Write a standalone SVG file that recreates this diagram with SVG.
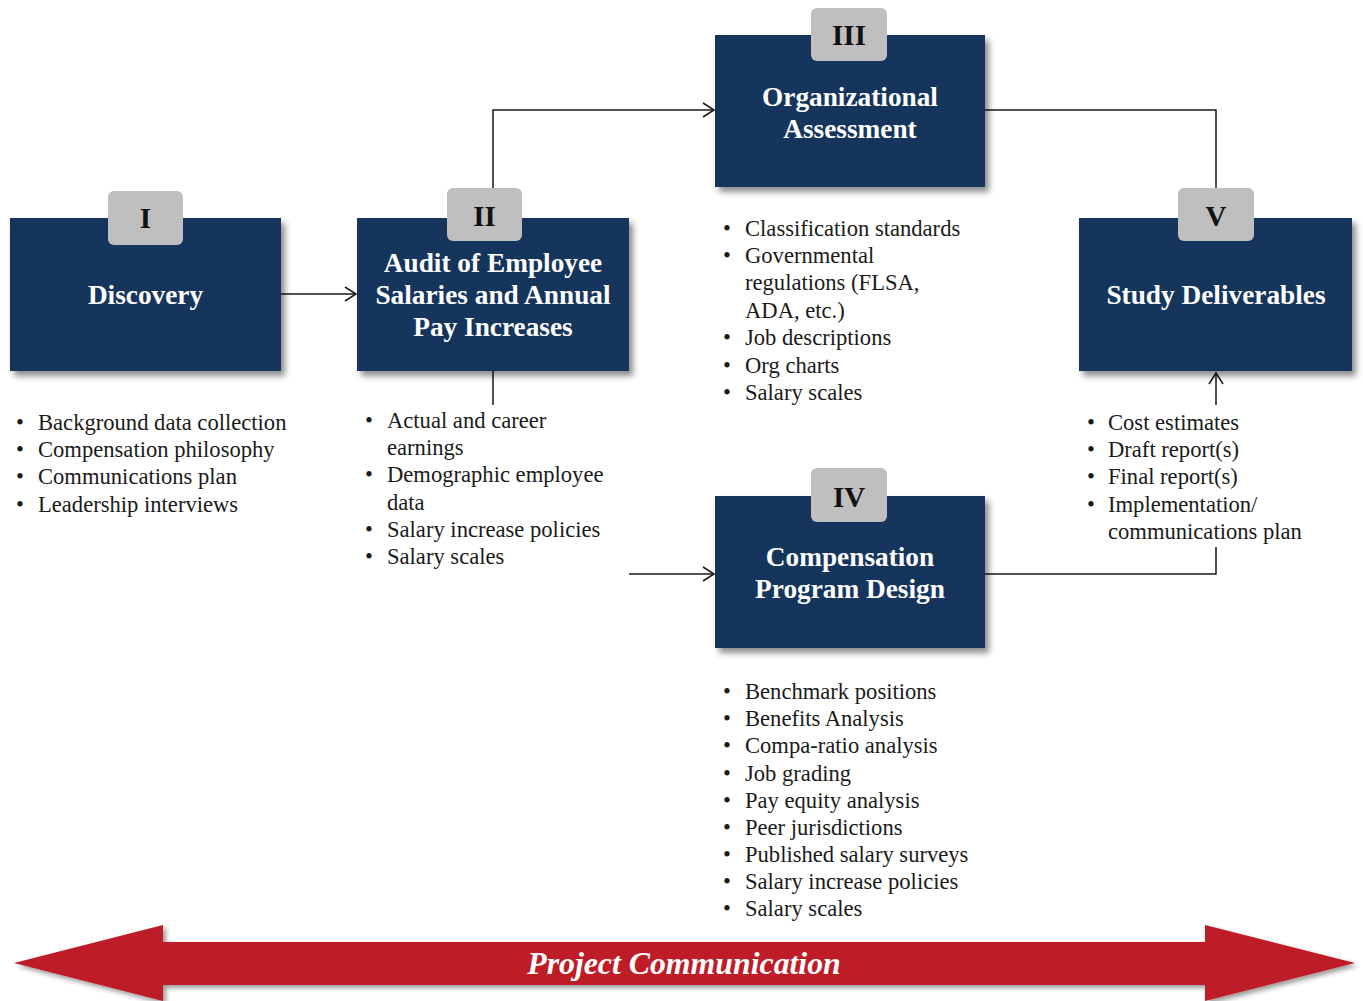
<svg xmlns="http://www.w3.org/2000/svg" width="1363" height="1001" viewBox="0 0 1363 1001">
  <defs>
    <style>
      .box { fill: #17365d; }
      .badge { fill: #bfbfbf; }
      .title { font-family: "Liberation Serif", "Times New Roman", serif; font-weight: bold; font-size: 27.3px; fill: #ffffff; text-anchor: middle; }
      .num { font-family: "Liberation Serif", "Times New Roman", serif; font-weight: bold; font-size: 29px; fill: #111111; text-anchor: middle; }
      .list { font-family: "Liberation Serif", "Times New Roman", serif; font-size: 22.6px; fill: #1a1a1a; }
      .conn { fill: none; stroke: #1a1a1a; stroke-width: 1.5; }
      .banner { font-family: "Liberation Serif", "Times New Roman", serif; font-weight: bold; font-style: italic; font-size: 31.8px; fill: #ffffff; text-anchor: middle; }
    </style>
    <filter id="shadow" x="-10%" y="-10%" width="125%" height="130%">
      <feDropShadow dx="4" dy="5" stdDeviation="3" flood-color="#000" flood-opacity="0.45"/>
    </filter>
    <filter id="ashadow" x="-5%" y="-20%" width="110%" height="150%">
      <feDropShadow dx="3" dy="3" stdDeviation="2.5" flood-color="#000" flood-opacity="0.4"/>
    </filter>
    <marker id="open" markerUnits="userSpaceOnUse" markerWidth="14" markerHeight="16" refX="12" refY="8" orient="auto">
      <path d="M1,1 L12,8 L1,15" fill="none" stroke="#1a1a1a" stroke-width="1.5"/>
    </marker>
  </defs>

  <rect width="1363" height="1001" fill="#ffffff"/>

  <!-- connectors -->
  <g id="connectors">
    <line class="conn" x1="281" y1="294" x2="356" y2="294" marker-end="url(#open)"/>
    <polyline class="conn" points="493,188 493,110 714,110" marker-end="url(#open)"/>
    <polyline class="conn" points="985,110 1216,110 1216,188"/>
    <line class="conn" x1="493" y1="371" x2="493" y2="405"/>
    <line class="conn" x1="629" y1="574" x2="714" y2="574" marker-end="url(#open)"/>
    <polyline class="conn" points="985,574 1216,574 1216,547"/>
    <line class="conn" x1="1216" y1="405" x2="1216" y2="373" marker-end="url(#open)"/>
  </g>

  <!-- phase I -->
  <g id="node-discovery">
    <rect class="box" x="10" y="218" width="271" height="153" filter="url(#shadow)"/>
    <rect class="badge" x="108" y="191" width="75" height="54" rx="6"/>
    <text class="num" x="145.5" y="228">I</text>
    <text class="title" x="145.5" y="304">Discovery</text>
    <g class="list">
      <text x="16" y="430">•</text><text x="38" y="430">Background data collection</text>
      <text x="16" y="457">•</text><text x="38" y="457">Compensation philosophy</text>
      <text x="16" y="484">•</text><text x="38" y="484">Communications plan</text>
      <text x="16" y="512">•</text><text x="38" y="512">Leadership interviews</text>
    </g>
  </g>

  <!-- phase II -->
  <g id="node-audit">
    <rect class="box" x="357" y="218" width="272" height="153" filter="url(#shadow)"/>
    <rect class="badge" x="447" y="188" width="75" height="53" rx="6"/>
    <text class="num" x="484.5" y="226">II</text>
    <text class="title" x="493" y="272">Audit of Employee</text>
    <text class="title" x="493" y="304">Salaries and Annual</text>
    <text class="title" x="493" y="336">Pay Increases</text>
    <g class="list">
      <text x="365" y="428">•</text><text x="387" y="428">Actual and career</text>
      <text x="387" y="455">earnings</text>
      <text x="365" y="482">•</text><text x="387" y="482">Demographic employee</text>
      <text x="387" y="510">data</text>
      <text x="365" y="537">•</text><text x="387" y="537">Salary increase policies</text>
      <text x="365" y="564">•</text><text x="387" y="564">Salary scales</text>
    </g>
  </g>

  <!-- phase III -->
  <g id="node-org">
    <rect class="box" x="715" y="35" width="270" height="152" filter="url(#shadow)"/>
    <rect class="badge" x="811" y="8" width="76" height="53" rx="6"/>
    <text class="num" x="849" y="45">III</text>
    <text class="title" x="850" y="106">Organizational</text>
    <text class="title" x="850" y="138">Assessment</text>
    <g class="list">
      <text x="723" y="236">•</text><text x="745" y="236">Classification standards</text>
      <text x="723" y="263">•</text><text x="745" y="263">Governmental</text>
      <text x="745" y="290">regulations (FLSA,</text>
      <text x="745" y="318">ADA, etc.)</text>
      <text x="723" y="345">•</text><text x="745" y="345">Job descriptions</text>
      <text x="723" y="373">•</text><text x="745" y="373">Org charts</text>
      <text x="723" y="400">•</text><text x="745" y="400">Salary scales</text>
    </g>
  </g>

  <!-- phase IV -->
  <g id="node-comp">
    <rect class="box" x="715" y="496" width="270" height="152" filter="url(#shadow)"/>
    <rect class="badge" x="811" y="468" width="76" height="54" rx="6"/>
    <text class="num" x="849" y="507">IV</text>
    <text class="title" x="850" y="566">Compensation</text>
    <text class="title" x="850" y="598">Program Design</text>
    <g class="list">
      <text x="723" y="699">•</text><text x="745" y="699">Benchmark positions</text>
      <text x="723" y="726">•</text><text x="745" y="726">Benefits Analysis</text>
      <text x="723" y="753">•</text><text x="745" y="753">Compa-ratio analysis</text>
      <text x="723" y="781">•</text><text x="745" y="781">Job grading</text>
      <text x="723" y="808">•</text><text x="745" y="808">Pay equity analysis</text>
      <text x="723" y="835">•</text><text x="745" y="835">Peer jurisdictions</text>
      <text x="723" y="862">•</text><text x="745" y="862">Published salary surveys</text>
      <text x="723" y="889">•</text><text x="745" y="889">Salary increase policies</text>
      <text x="723" y="916">•</text><text x="745" y="916">Salary scales</text>
    </g>
  </g>

  <!-- phase V -->
  <g id="node-deliverables">
    <rect class="box" x="1079" y="218" width="273" height="153" filter="url(#shadow)"/>
    <rect class="badge" x="1178" y="188" width="76" height="53" rx="6"/>
    <text class="num" x="1216" y="226">V</text>
    <text class="title" x="1216" y="304">Study Deliverables</text>
    <g class="list">
      <text x="1087" y="430">•</text><text x="1108" y="430">Cost estimates</text>
      <text x="1087" y="457">•</text><text x="1108" y="457">Draft report(s)</text>
      <text x="1087" y="484">•</text><text x="1108" y="484">Final report(s)</text>
      <text x="1087" y="512">•</text><text x="1108" y="512">Implementation/</text>
      <text x="1108" y="539">communications plan</text>
    </g>
  </g>

  <!-- project communication banner -->
  <g id="banner">
    <polygon points="14,963 163,925 163,942 1205,942 1205,925 1355,963 1205,1001 1205,985 163,985 163,1001" fill="#be1e25" filter="url(#ashadow)"/>
    <text class="banner" x="684" y="974">Project Communication</text>
  </g>
</svg>
